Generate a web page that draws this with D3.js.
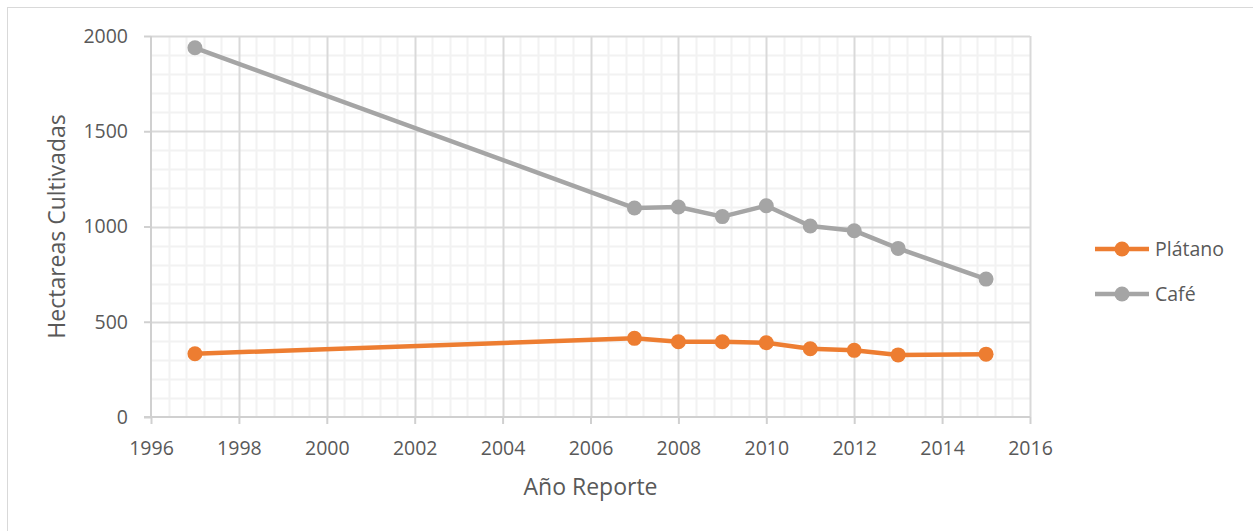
<!DOCTYPE html>
<html>
<head>
<meta charset="utf-8">
<script src="https://cdn.jsdelivr.net/npm/d3@7/dist/d3.min.js"></script>
<style>
  html, body { margin: 0; padding: 0; background: #fff; }
  svg { display: block; font-family: "Open Sans", sans-serif; }
</style>
</head>
<body>
<svg id="chart" width="1253" height="531"></svg>
<script>
// Hectares cultivated per reporting year
const years = [1997, 2007, 2008, 2009, 2010, 2011, 2012, 2013, 2015];
const platano = [332, 413, 395, 395, 390, 358, 350, 326, 330];
const cafe = [1938, 1097, 1102, 1052, 1109, 1003, 978, 885, 724];

const seriesNames = ["Plátano", "Café"];
const seriesColors = ["#ED7D31", "#A5A5A5"];

const xTicks = [1996, 1998, 2000, 2002, 2004, 2006, 2008, 2010, 2012, 2014, 2016];
const yTicks = [0, 500, 1000, 1500, 2000];

const xTitle = "Año Reporte";
const yTitle = "Hectareas Cultivadas";

const svg = d3.select("#chart");
const W = 1253, H = 531;
const plot = { left: 151, right: 1030, top: 36, bottom: 417 };

// chart frame
svg.append("rect")
  .attr("x", 7.5).attr("y", 7.5)
  .attr("width", W).attr("height", H)
  .attr("fill", "#fff").attr("stroke", "#D9D9D9").attr("stroke-width", 1);

const x = d3.scaleLinear().domain([1996, 2016]).range([plot.left, plot.right]);
const y = d3.scaleLinear().domain([0, 2000]).range([plot.bottom, plot.top]);

// minor gridlines
const xMinor = d3.range(1996, 2016.001, 0.4).filter(v => Math.abs((v - 1996) / 2 - Math.round((v - 1996) / 2)) > 1e-6);
const yMinor = d3.range(0, 2000.001, 100).filter(v => v % 500 !== 0);

const grid = svg.append("g");
grid.selectAll("line.xm").data(xMinor).join("line")
  .attr("x1", d => Math.round(x(d)) + 0.5).attr("x2", d => Math.round(x(d)) + 0.5)
  .attr("y1", plot.top).attr("y2", plot.bottom)
  .attr("stroke", "#F2F2F2").attr("stroke-width", 2);
grid.selectAll("line.ym").data(yMinor).join("line")
  .attr("y1", d => Math.round(y(d)) + 0.5).attr("y2", d => Math.round(y(d)) + 0.5)
  .attr("x1", plot.left).attr("x2", plot.right)
  .attr("stroke", "#F2F2F2").attr("stroke-width", 2);

// major gridlines
grid.selectAll("line.xM").data(xTicks.slice(1)).join("line")
  .attr("x1", d => Math.round(x(d)) + 0.5).attr("x2", d => Math.round(x(d)) + 0.5)
  .attr("y1", plot.top).attr("y2", plot.bottom)
  .attr("stroke", "#D9D9D9").attr("stroke-width", 2);
grid.selectAll("line.yM").data(yTicks.slice(1)).join("line")
  .attr("y1", d => Math.round(y(d)) + 0.5).attr("y2", d => Math.round(y(d)) + 0.5)
  .attr("x1", plot.left).attr("x2", plot.right)
  .attr("stroke", "#D9D9D9").attr("stroke-width", 2);

// axes
const xAxis = d3.axisBottom(x).tickValues(xTicks).tickFormat(d3.format("d")).tickSize(7).tickPadding(17);
const yAxis = d3.axisLeft(y).tickValues(yTicks).tickFormat(d3.format("d")).tickSize(7).tickPadding(16);

const gx = svg.append("g").attr("transform", `translate(0,${plot.bottom})`).call(xAxis);
const gy = svg.append("g").attr("transform", `translate(${plot.left},0)`).call(yAxis);
[gx, gy].forEach(g => {
  g.select(".domain").attr("stroke", "#D0D0D0").attr("stroke-width", 2);
  g.selectAll(".tick line").attr("stroke", "#D0D0D0").attr("stroke-width", 2);
  g.selectAll(".tick text").attr("fill", "#595959")
    .style("font-size", "19.5px").style("font-family", "'Open Sans', sans-serif");
});
gy.select(".domain").attr("d", `M0,${plot.top}V${plot.bottom}`);
gx.select(".domain").attr("d", `M${plot.left - 7},0H${plot.right}`);

// axis titles
svg.append("text")
  .attr("x", (plot.left + plot.right) / 2).attr("y", 495)
  .attr("text-anchor", "middle").attr("fill", "#595959")
  .style("font-size", "23px").text(xTitle);
svg.append("text")
  .attr("transform", `translate(65,${(plot.top + plot.bottom) / 2}) rotate(-90)`)
  .attr("text-anchor", "middle").attr("fill", "#595959")
  .style("font-size", "23px").text(yTitle);

// series lines and markers
const seriesData = [platano, cafe];
const line = d3.line().x(d => x(d[0])).y(d => y(d[1]));

seriesData.slice().reverse().forEach((vals, ri) => {
  const i = seriesData.length - 1 - ri;
  const pts = years.map((yr, k) => [yr, vals[k]]);
  const g = svg.append("g");
  g.append("path").datum(pts)
    .attr("d", line).attr("fill", "none")
    .attr("stroke", seriesColors[i]).attr("stroke-width", 4.5)
    .attr("stroke-linejoin", "round");
  g.selectAll("circle").data(pts).join("circle")
    .attr("cx", d => x(d[0])).attr("cy", d => y(d[1])).attr("r", 7.5)
    .attr("fill", seriesColors[i]);
});

// legend
const legendY = [249, 294];
const leg = svg.append("g");
seriesNames.forEach((name, i) => {
  leg.append("line")
    .attr("x1", 1095).attr("x2", 1149)
    .attr("y1", legendY[i]).attr("y2", legendY[i])
    .attr("stroke", seriesColors[i]).attr("stroke-width", 4.5);
  leg.append("circle")
    .attr("cx", 1122).attr("cy", legendY[i]).attr("r", 7.5)
    .attr("fill", seriesColors[i]);
  leg.append("text")
    .attr("x", 1155).attr("y", legendY[i]).attr("dy", "0.35em")
    .attr("fill", "#595959").style("font-size", "19.5px")
    .text(name);
});
</script>
</body>
</html>
